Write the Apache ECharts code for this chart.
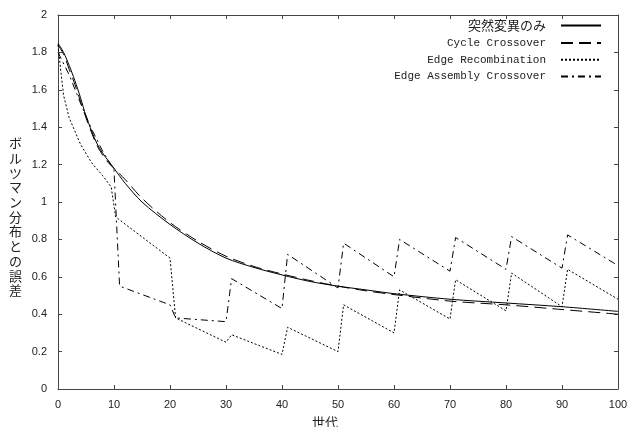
<!DOCTYPE html>
<html>
<head>
<meta charset="utf-8">
<script src="https://cdn.jsdelivr.net/npm/echarts@6/dist/echarts.min.js"></script>
<style>
  html, body { margin: 0; padding: 0; background: #fff; }
  #chart { width: 627px; height: 427px; }
</style>
</head>
<body>
<div id="chart"></div>
<script>
// 軸の目盛り
const xTicks = { min: 0, max: 100, interval: 10 }
const yTicks = { min: 0, max: 2, interval: 0.2 }

// 系列名と軸名
const seriesNames = ['突然変異のみ', 'Cycle Crossover', 'Edge Recombination', 'Edge Assembly Crossover']
const xName = '世代'
const yName = 'ボルツマン分布との誤差'

// [世代, 誤差]
const mutationOnly = [
  [0, 1.85], [1, 1.80], [2, 1.73], [3, 1.65], [4, 1.56], [5, 1.46], [6, 1.38], [7, 1.31],
  [8, 1.26], [9, 1.22], [10, 1.18], [12, 1.10], [15, 1.00], [20, 0.88], [25, 0.78],
  [30, 0.70], [35, 0.65], [40, 0.61], [45, 0.575], [50, 0.55], [55, 0.53], [60, 0.51],
  [70, 0.48], [80, 0.46], [90, 0.44], [100, 0.415]
]
const cycleCrossover = [
  [0, 1.84], [1, 1.79], [2, 1.71], [3, 1.63], [4, 1.54], [5, 1.45], [6, 1.37], [7, 1.30],
  [8, 1.25], [9, 1.21], [10, 1.18], [12, 1.12], [15, 1.02], [20, 0.89], [25, 0.79],
  [30, 0.71], [35, 0.655], [40, 0.615], [45, 0.58], [50, 0.55], [55, 0.525], [60, 0.505],
  [70, 0.47], [80, 0.45], [90, 0.425], [100, 0.40]
]
const edgeRecombination = [
  [0, 1.84], [0.5, 1.70], [1, 1.57], [2, 1.45], [4, 1.31], [6, 1.21], [8, 1.14], [9.5, 1.08],
  [10.3, 0.92], [20, 0.70], [21, 0.38], [30, 0.25], [31, 0.29], [40, 0.185], [41, 0.33],
  [50, 0.20], [51, 0.45], [60, 0.30], [61, 0.53], [70, 0.374], [71, 0.584], [80, 0.418],
  [81, 0.62], [90, 0.44], [91, 0.64], [100, 0.48]
]
const edgeAssembly = [
  [0, 1.80], [2, 1.68], [4, 1.53], [6, 1.39], [8, 1.27], [10, 1.17], [11, 0.55], [20, 0.45],
  [21, 0.38], [30, 0.36], [31, 0.59], [40, 0.43], [41, 0.72], [50, 0.54], [51, 0.78],
  [60, 0.60], [61, 0.80], [70, 0.63], [71, 0.81], [80, 0.64], [81, 0.815], [90, 0.646],
  [91, 0.824], [100, 0.66]
]

const frameColor = '#444'
const textColor = '#222'
const labelFont = "'Liberation Sans Narrow', 'Liberation Sans', sans-serif"
const jpFont = "'Noto Sans CJK JP'"

// 枠線と内向きの目盛り
function frameAxis(extra) {
  return Object.assign({
    type: 'value',
    axisLine: { show: true, onZero: false, lineStyle: { color: frameColor, width: 1 } },
    axisTick: { show: true, inside: true, length: 4, lineStyle: { color: frameColor } },
    splitLine: { show: false },
    axisLabel: { show: false }
  }, extra)
}

function lineSeries(name, data, type, smooth) {
  return {
    name: name,
    type: 'line',
    data: data,
    symbol: 'none',
    smooth: smooth,
    animation: false,
    lineStyle: { color: '#000', width: 1, type: type },
    itemStyle: { color: '#000' }
  }
}

const option = {
  animation: false,
  grid: { left: 58, right: 9, top: 15, bottom: 38, outerBoundsMode: 'none', containLabel: false },
  legend: {
    orient: 'vertical',
    right: 25,
    top: 19,
    padding: 0,
    align: 'right',
    itemWidth: 40,
    itemHeight: 14,
    itemGap: 5.5,
    data: seriesNames,
    itemStyle: { opacity: 0 },
    textStyle: {
      fontFamily: "'Liberation Mono', monospace",
      fontSize: 11,
      color: textColor,
      padding: [0, 10, 0, 0],
      rich: {
        j: { fontFamily: jpFont, fontSize: 13, color: textColor }
      }
    },
    formatter: function (name) {
      return name === seriesNames[0] ? '{j|' + name + '}' : name
    }
  },
  // 縦書きの軸名
  graphic: [{
    type: 'text',
    left: 9,
    top: 136,
    silent: true,
    style: {
      text: yName.split('').join('\n'),
      font: '13px ' + jpFont,
      lineHeight: 14.7,
      fill: textColor,
      align: 'center'
    }
  }],
  xAxis: [
    frameAxis(Object.assign({}, xTicks, {
      position: 'bottom',
      name: xName,
      nameLocation: 'middle',
      nameGap: 27,
      nameTextStyle: { fontFamily: jpFont, fontSize: 13, color: textColor, padding: [0, 26, 0, 0] },
      axisLabel: { show: true, margin: 10, fontFamily: labelFont, fontSize: 11, color: textColor }
    })),
    frameAxis(Object.assign({}, xTicks, { position: 'top' }))
  ],
  yAxis: [
    frameAxis(Object.assign({}, yTicks, {
      position: 'left',
      axisLabel: { show: true, margin: 11, fontFamily: labelFont, fontSize: 11, color: textColor }
    })),
    frameAxis(Object.assign({}, yTicks, { position: 'right' }))
  ],
  series: [
    lineSeries(seriesNames[0], mutationOnly, 'solid', 0.3),
    lineSeries(seriesNames[1], cycleCrossover, [12, 6], 0.3),
    lineSeries(seriesNames[2], edgeRecombination, [2, 2], false),
    lineSeries(seriesNames[3], edgeAssembly, [7, 4, 2, 4], false)
  ]
}

echarts.init(document.getElementById('chart')).setOption(option)
</script>
</body>
</html>
